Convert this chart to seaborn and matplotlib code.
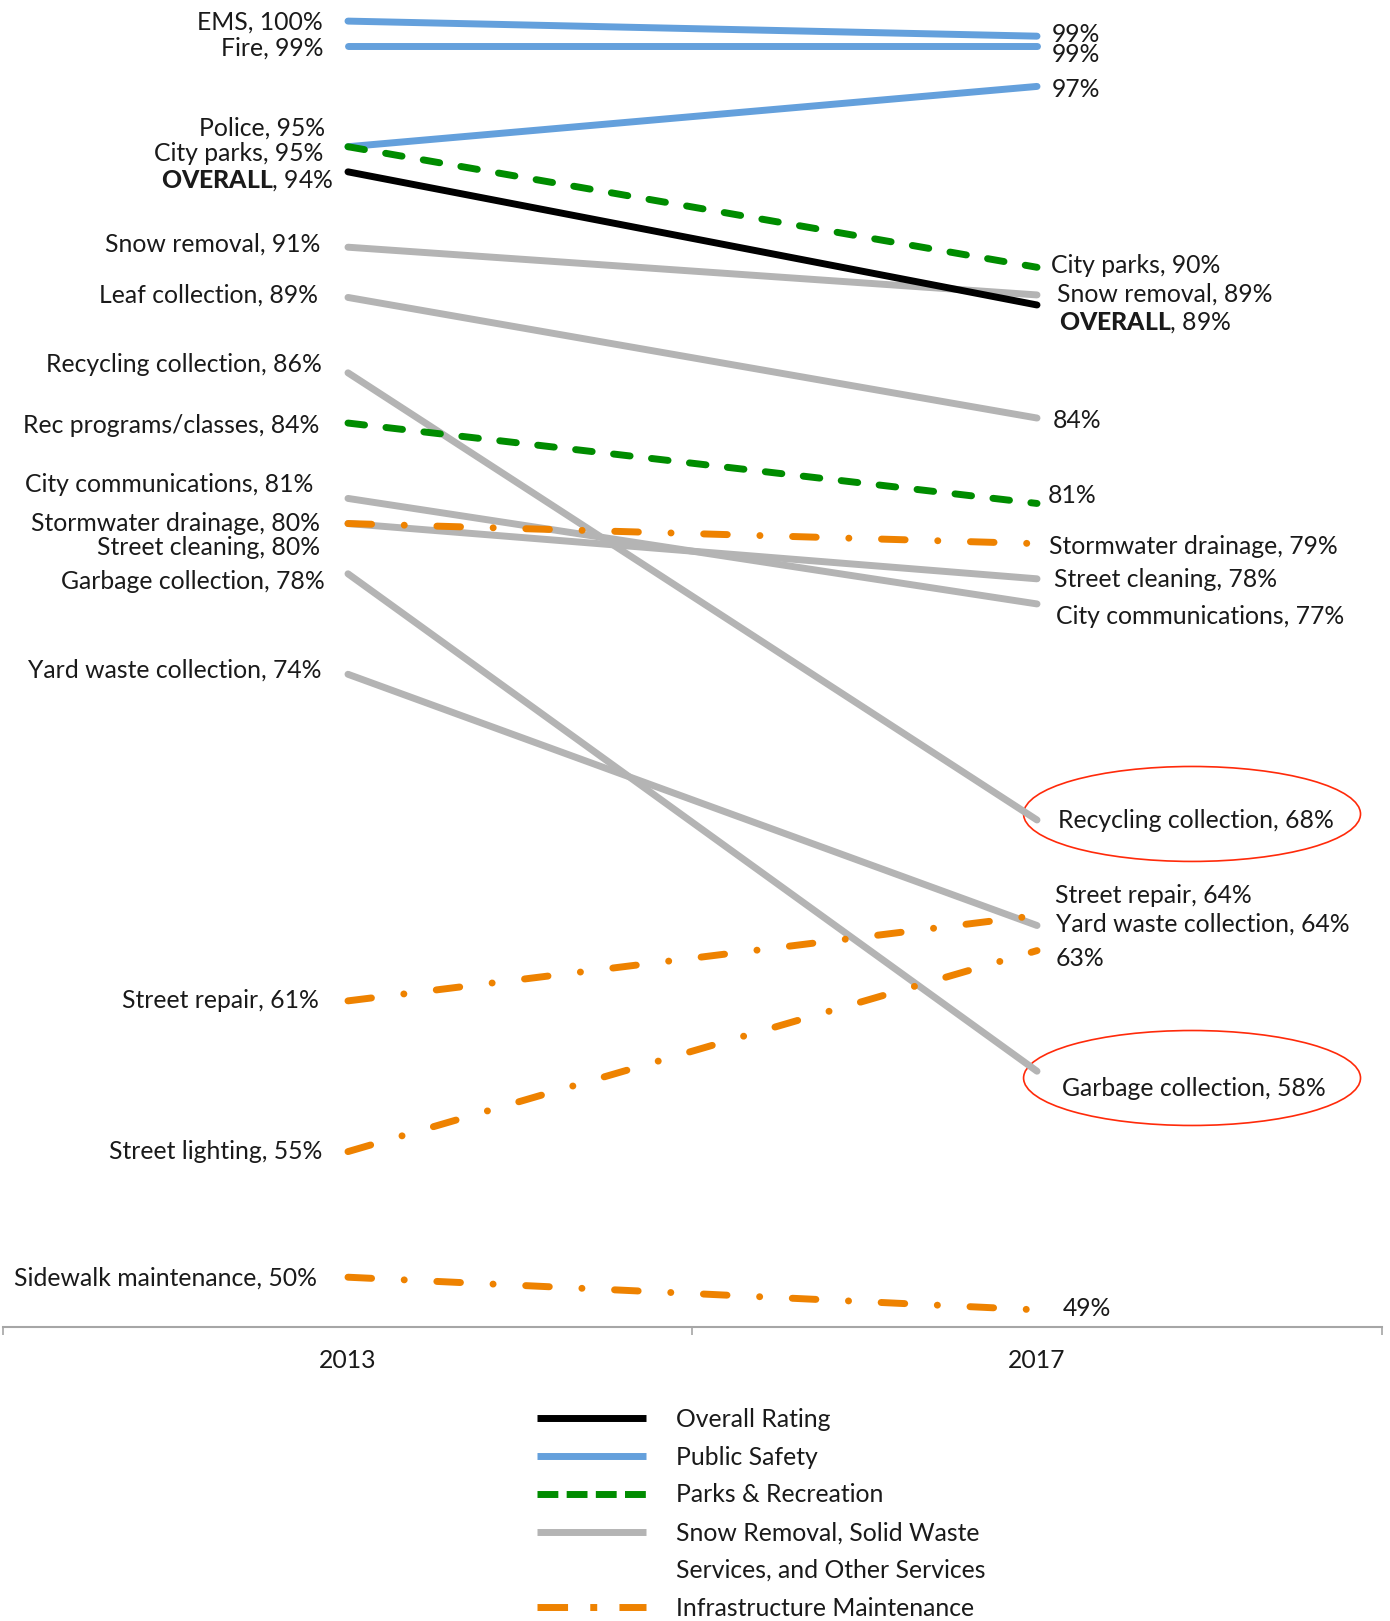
import pandas as pd
import seaborn as sns
import matplotlib.pyplot as plt
from matplotlib.lines import Line2D
from matplotlib.patches import Ellipse

# Resident satisfaction ratings, 2013 vs 2017
services = ['OVERALL', 'EMS', 'Fire', 'Police', 'City parks', 'Rec programs/classes',
            'Snow removal', 'Leaf collection', 'Recycling collection', 'City communications',
            'Street cleaning', 'Garbage collection', 'Yard waste collection',
            'Stormwater drainage', 'Street repair', 'Street lighting', 'Sidewalk maintenance']
groups = ['Overall Rating', 'Public Safety', 'Public Safety', 'Public Safety',
          'Parks & Recreation', 'Parks & Recreation'] + ['Snow Removal'] * 7 + ['Infrastructure Maintenance'] * 4
rating_2013 = [94, 100, 99, 95, 95, 84, 91, 89, 86, 81, 80, 78, 74, 80, 61, 55, 50]
rating_2017 = [88.7, 99.4, 99.0, 97.4, 90.2, 80.8, 89.1, 84.2, 68.2, 76.8, 77.8, 58.2, 64.0, 79.2, 64.4, 63.0, 48.7]
years = [2013, 2017]
# which 2017 labels carry the service name
name_2017 = [True, False, False, False, True, False, True, False, True, True,
             True, True, True, True, True, False, False]
highlight = ['Recycling collection', 'Garbage collection']

legend_labels = ['Overall Rating', 'Public Safety', 'Parks & Recreation',
                 'Snow Removal, Solid Waste', 'Services, and Other Services',
                 'Infrastructure Maintenance']

# label nudges (points): left side x/y, right side x/y
left_dx = [-10.4, -17.9, -17.9, -16.4, -17.9, -20.8, -20, -21.6, -18.6, -24.6, -20, -16.4, -19.3, -20, -20.8, -18.6, -22.3]
left_dy = [-6, -0.7, -1.5, 13.4, -5.2, -1.5, 2.2, 1.5, 6, 9.7, -17.1, -5.2, 3, 0, 0, 0, -0.7]
right_dx = [15.6, 10.4, 10.4, 10.4, 10.4, 7.4, 14.1, 11.2, 14.9, 13.4, 11.9, 17.9, 13.4, 8.9, 12.6, 13.4, 18.6]
right_dy = [-12.6, 1.5, -6, -2.2, 1.5, 6, 0.7, -1.5, -0.7, -8.9, -0.7, -12.6, 0.7, -2.2, 14.1, -6, 0.7]
ellipse_dy = [0.24, -0.27]

palette = {'Overall Rating': '#000000', 'Public Safety': '#64a0dc',
           'Parks & Recreation': '#008c00', 'Snow Removal': '#b4b4b4',
           'Infrastructure Maintenance': '#ee8200'}
dash_map = {'Overall Rating': '', 'Public Safety': '', 'Parks & Recreation': (2.4, 3.1),
            'Snow Removal': '', 'Infrastructure Maintenance': (3.4, 4.7, 0.01, 4.7)}
draw_order = ['Snow Removal', 'Infrastructure Maintenance', 'Public Safety',
              'Parks & Recreation', 'Overall Rating']

n = len(services)
df = pd.DataFrame({
    'service': services * 2,
    'group': groups * 2,
    'year': [years[0]] * n + [years[1]] * n,
    'rating': rating_2013 + rating_2017,
})

sns.set_theme(style='white')
plt.rcParams['font.family'] = ['Lato', 'DejaVu Sans']
plt.rcParams['mathtext.fontset'] = 'custom'
plt.rcParams['mathtext.rm'] = 'Lato'
plt.rcParams['mathtext.bf'] = 'Lato:black'
plt.rcParams['lines.solid_capstyle'] = 'round'
plt.rcParams['lines.dash_capstyle'] = 'round'

FS = 17.8
fig = plt.figure(figsize=(13.9, 16.21), dpi=100)
ax = fig.add_axes([0.0025, 0.1814, 0.9914, 0.8186])

sns.lineplot(data=df, x='year', y='rating', hue='group', style='group', units='service',
             estimator=None, hue_order=draw_order, style_order=draw_order,
             palette=palette, dashes=dash_map, linewidth=5, legend=False, sort=False, ax=ax)

ax.set_xlim(2011, 2019)
ax.set_ylim(48.02, 100.84)
ax.set_xticks(years, [str(y) for y in years])
ax.set_xticks([2011, 2015, 2019], minor=True)
ax.tick_params(axis='x', which='major', length=0, pad=16, labelsize=FS, labelcolor='#1a1a1a')
ax.tick_params(axis='x', which='minor', length=6, width=1.2, color='#a6a6a6', direction='out', bottom=True)
ax.set_yticks([])
ax.set_xlabel('')
ax.set_ylabel('')
for side in ['left', 'top', 'right']:
    ax.spines[side].set_visible(False)
ax.spines['bottom'].set_color('#a6a6a6')
ax.spines['bottom'].set_linewidth(1.5)


def label_name(s):
    return r'$\mathbf{OVERALL}$' if s == 'OVERALL' else s


for i, s in enumerate(services):
    ax.annotate(f'{label_name(s)}, {rating_2013[i]:.0f}%', xy=(years[0], rating_2013[i]),
                xytext=(left_dx[i], left_dy[i]), textcoords='offset points',
                ha='right', va='center', fontsize=FS, color='#1a1a1a')
    txt = f'{rating_2017[i]:.0f}%'
    if name_2017[i]:
        txt = f'{label_name(s)}, {txt}'
    ax.annotate(txt, xy=(years[1], rating_2017[i]),
                xytext=(right_dx[i], right_dy[i]), textcoords='offset points',
                ha='left', va='center', fontsize=FS, color='#1a1a1a')

for s, dy in zip(highlight, ellipse_dy):
    v = rating_2017[services.index(s)]
    ax.add_patch(Ellipse((2017.9, v + dy), 1.956, 3.78, fill=False,
                         edgecolor='#ff2a0a', linewidth=1.2))

handles = [
    Line2D([], [], color=palette['Overall Rating'], lw=5, solid_capstyle='butt'),
    Line2D([], [], color=palette['Public Safety'], lw=5, solid_capstyle='butt'),
    Line2D([], [], color=palette['Parks & Recreation'], lw=5, linestyle=(0, (3, 1.2)), dash_capstyle='butt'),
    Line2D([], [], color=palette['Snow Removal'], lw=5, solid_capstyle='butt'),
    Line2D([], [], color='none'),
    Line2D([], [], color=palette['Infrastructure Maintenance'], lw=5,
           linestyle=(0, (4.4, 3.2, 1, 3.2)), dash_capstyle='butt'),
]
fig.legend(handles, legend_labels, loc='upper left', bbox_to_anchor=(0.3863, 0.1316),
           frameon=False, fontsize=FS, handlelength=4.4, handletextpad=1.24,
           labelspacing=0.6, borderpad=0, borderaxespad=0, labelcolor='#1a1a1a')

fig.savefig('out.png', dpi=100)
